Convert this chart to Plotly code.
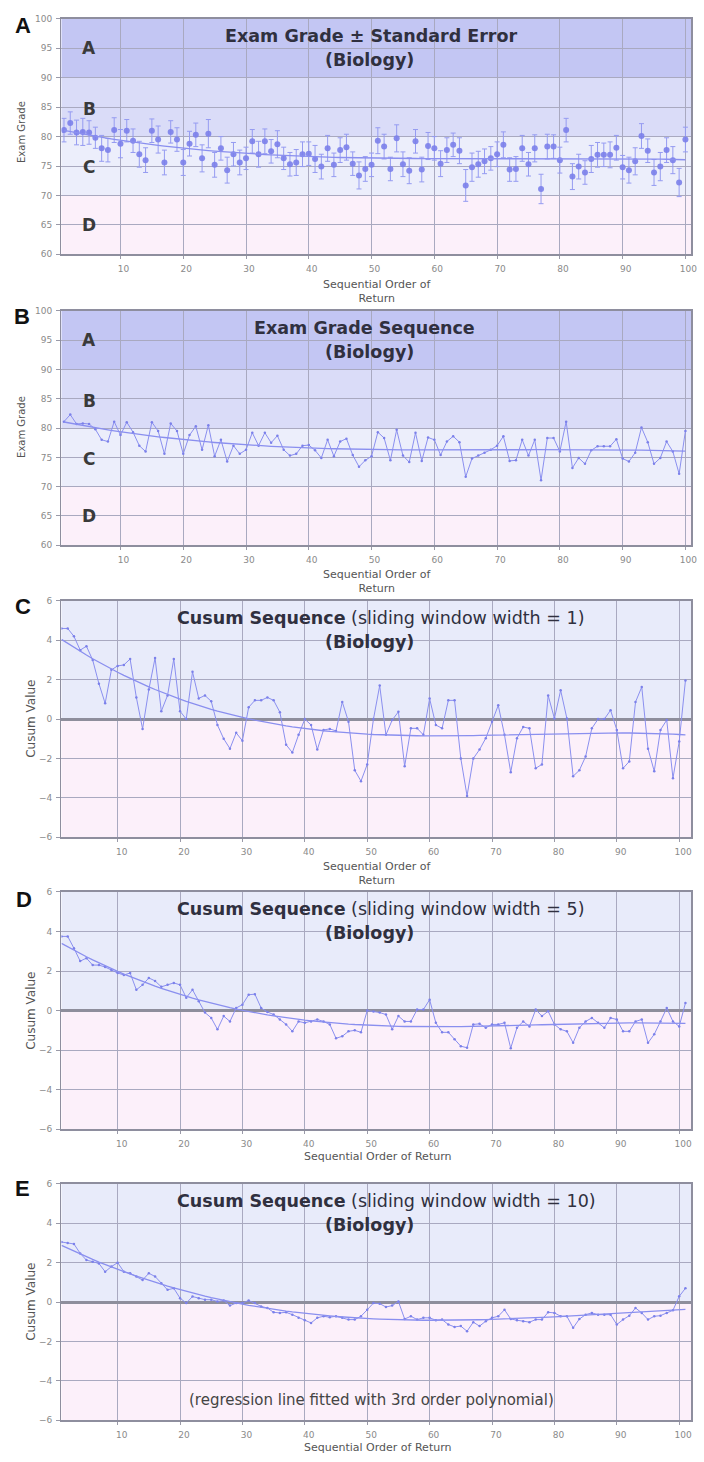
import numpy as np
import plotly.graph_objects as go

# ---------------- data ----------------
order = list(range(1, 101))
grades = [81.1, 82.3, 80.7, 80.8, 80.7, 79.8, 78.0, 77.7, 81.1, 78.8,
          81.0, 79.3, 77.0, 76.0, 81.0, 79.5, 75.6, 80.8, 79.5, 75.6,
          78.8, 80.3, 76.3, 80.5, 75.2, 78.0, 74.3, 77.0, 75.6, 76.3,
          79.2, 77.0, 79.2, 77.5, 78.7, 76.3, 75.3, 75.6, 77.0, 77.1,
          76.2, 74.9, 78.0, 75.2, 77.7, 78.2, 75.4, 73.4, 74.5, 75.2,
          79.3, 78.3, 74.5, 79.7, 75.3, 74.2, 79.2, 74.4, 78.4, 78.0,
          75.4, 77.7, 78.6, 77.6, 71.7, 74.8, 75.3, 75.8, 76.3, 77.0,
          78.6, 74.4, 74.5, 78.0, 75.3, 78.0, 71.1, 78.3, 78.3, 76.0,
          81.1, 73.2, 74.9, 73.9, 76.2, 76.9, 76.9, 76.9, 78.1, 74.8,
          74.3, 75.8, 80.1, 77.6, 73.9, 74.9, 77.7, 76.0, 72.2, 79.5]
grade_se = [2.0, 1.9, 2.1, 2.3, 2.0, 1.8, 2.2, 2.0, 2.1, 2.4,
            1.9, 2.0, 2.2, 2.1, 2.0, 2.3, 2.1, 1.9, 2.0, 2.2,
            2.1, 2.0, 2.3, 2.4, 2.1, 2.0, 2.2, 2.0, 2.1, 1.9,
            2.0, 2.2, 2.1, 2.0, 2.3, 1.9, 2.0, 2.2, 2.1, 2.0,
            2.3, 2.1, 2.2, 2.0, 2.1, 2.2, 2.0, 2.3, 2.1, 2.0,
            2.2, 2.1, 2.0, 2.3, 2.1, 2.2, 2.0, 2.1, 2.3, 2.0,
            2.2, 2.1, 2.0, 2.2, 2.7, 2.4, 2.2, 2.1, 2.0, 2.1,
            2.2, 2.0, 2.1, 2.2, 2.0, 2.3, 2.5, 2.1, 2.0, 2.2,
            2.0, 2.2, 2.1, 2.0, 2.3, 2.1, 2.0, 2.2, 2.1, 2.0,
            2.2, 2.3, 2.1, 2.0, 2.2, 2.4, 2.1, 2.3, 2.4, 2.1]

cusum_order = list(range(1, 102))
cusum_w1 = [4.6, 4.6, 4.2, 3.5, 3.7, 3.0, 1.8, 0.8, 2.5, 2.7,
            2.75, 3.05, 1.1, -0.5, 1.5, 3.1, 0.4, 1.2, 3.05, 0.4,
            0.0, 2.4, 1.05, 1.2, 0.9, -0.3, -1.0, -1.5, -0.7, -1.1,
            0.6, 0.95, 0.95, 1.1, 0.95, 0.35, -1.3, -1.7, -0.8, 0.0,
            -0.3, -1.55, -0.55, -0.5, -0.6, 0.87, -0.13, -2.6, -3.15, -2.3,
            0.0, 1.7, -0.8, -0.05, 0.37, -2.4, -0.47, -0.47, -0.8, 1.04,
            -0.3, -0.47, 0.95, 0.95, -2.0, -3.9, -2.0, -1.55, -0.97, -0.13,
            0.7, -0.8, -2.7, -0.97, -0.4, -0.47, -2.5, -2.3, 1.2, 0.03,
            1.46, 0.03, -2.9, -2.6, -1.9, -0.47, 0.0, 0.0, 0.45, -0.55,
            -2.5, -2.15, 0.87, 1.63, -1.5, -2.65, -0.55, -0.05, -3.0, -1.14,
            1.96]
cusum_w5 = [3.75, 3.75, 3.15, 2.5, 2.65, 2.3, 2.3, 2.2, 2.05, 1.9,
            1.8, 1.9, 1.05, 1.3, 1.65, 1.5, 1.2, 1.3, 1.4, 1.3,
            0.65, 1.05, 0.47, -0.1, -0.37, -0.95, -0.28, -0.55, 0.13, 0.3,
            0.8, 0.83, 0.13, -0.07, -0.2, -0.45, -0.7, -1.05, -0.55, -0.62,
            -0.55, -0.45, -0.55, -0.7, -1.4, -1.3, -1.05, -1.0, -1.1, 0.0,
            -0.05, -0.1, -0.2, -0.95, -0.28, -0.55, -0.55, 0.05, 0.05, 0.55,
            -0.62, -1.1, -1.1, -1.45, -1.8, -1.88, -0.7, -0.67, -0.87, -0.7,
            -0.7, -0.62, -1.9, -0.87, -0.55, -0.8, 0.05, -0.28, -0.03, -0.7,
            -0.95, -1.05, -1.63, -0.87, -0.55, -0.37, -0.62, -0.87, -0.37, -0.45,
            -1.05, -1.05, -0.55, -0.45, -1.63, -1.2, -0.55, 0.13, -0.55, -0.8,
            0.38]
cusum_w10 = [3.05, 3.0, 2.95, 2.47, 2.13, 2.05, 1.96, 1.54, 1.8, 2.0,
             1.54, 1.46, 1.3, 1.12, 1.46, 1.3, 0.96, 0.62, 0.7, 0.2,
             -0.05, 0.28, 0.2, 0.12, 0.12, 0.03, 0.08, -0.18, -0.05, -0.05,
             0.08, -0.05, -0.22, -0.3, -0.52, -0.55, -0.52, -0.64, -0.8, -0.92,
             -1.06, -0.8, -0.72, -0.77, -0.72, -0.8, -0.89, -0.89, -0.72, -0.39,
             -0.05, -0.08, -0.25, -0.18, 0.03, -0.86, -0.72, -0.89, -0.8, -0.8,
             -0.92, -0.89, -1.14, -1.26, -1.22, -1.48, -1.02, -1.22, -0.97, -0.8,
             -0.72, -0.39, -0.86, -0.92, -0.97, -1.02, -0.89, -0.89, -0.52, -0.55,
             -0.72, -0.72, -1.31, -0.86, -0.64, -0.55, -0.64, -0.64, -0.64, -1.14,
             -0.89, -0.69, -0.3, -0.55, -0.89, -0.72, -0.69, -0.55, -0.42, 0.29,
             0.7]

x_tick_vals = [10, 20, 30, 40, 50, 60, 70, 80, 90, 100]
grade_tick_vals = [60, 65, 70, 75, 80, 85, 90, 95, 100]
cusum_tick_vals = [-6, -4, -2, 0, 2, 4, 6]
grade_letters = ["A", "B", "C", "D"]
grade_letter_y = [95, 84.7, 74.8, 65]
grade_band_low = [90, 80, 70, 60]
grade_band_high = [100, 90, 80, 70]
window_widths = [1, 5, 10]
subject = "(Biology)"

# ---------------- styling / layout ----------------
W, H = 704, 1462
PL, PR = 62, 697
tops = [14, 308, 600, 893, 1187]
bots = [251, 544, 838, 1132, 1425]
band_colors = ["#c3c6f3", "#dadcf8", "#eceefb", "#fcf0fa"]
POS_BG, NEG_BG = "#e8ebfa", "#fcf0fa"
GRID = "#a9a9c0"
FRAME = "#8e8e9e"
DOT = "#7b80ea"
LINE = "#8a8fef"
TXT = "#30303f"
FONT = "DejaVu Sans"


def px(x):
    return x / W


def py(y):
    return 1 - y / H


fig = go.Figure()
names = ["x", "x2", "x3", "x4", "x5"]
ynames = ["y", "y2", "y3", "y4", "y5"]

# Panel A: grades with standard error
fig.add_trace(go.Scatter(x=order, y=grades, mode="markers",
                         marker=dict(size=6, color=DOT, opacity=0.9),
                         error_y=dict(type="data", array=grade_se, color="#959bf1",
                                      thickness=1, width=2.5),
                         xaxis="x", yaxis="y", showlegend=False))
fitA = np.polyval(np.polyfit(order, grades, 3), order)
fig.add_trace(go.Scatter(x=order, y=fitA, mode="lines", line=dict(color=LINE, width=1.3),
                         xaxis="x", yaxis="y", showlegend=False))

# Panel B: grade sequence
fig.add_trace(go.Scatter(x=order, y=grades, mode="lines+markers",
                         line=dict(color=LINE, width=1), marker=dict(size=2.5, color=DOT),
                         xaxis="x2", yaxis="y2", showlegend=False))
fig.add_trace(go.Scatter(x=order, y=fitA, mode="lines", line=dict(color=LINE, width=1.3),
                         xaxis="x2", yaxis="y2", showlegend=False))

# Panels C-E: cusum sequences
for k, series in enumerate([cusum_w1, cusum_w5, cusum_w10]):
    xa, ya = names[k + 2], ynames[k + 2]
    fig.add_trace(go.Scatter(x=cusum_order, y=series, mode="lines+markers",
                             line=dict(color=LINE, width=1), marker=dict(size=2.5, color=DOT),
                             xaxis=xa, yaxis=ya, showlegend=False))
    fit = np.polyval(np.polyfit(cusum_order, series, 3), cusum_order)
    fig.add_trace(go.Scatter(x=cusum_order, y=fit, mode="lines",
                             line=dict(color=LINE, width=1.3),
                             xaxis=xa, yaxis=ya, showlegend=False))

shapes = []
annotations = []
layout = dict(width=W, height=H, autosize=False, margin=dict(l=0, r=0, t=0, b=0),
              paper_bgcolor="white", plot_bgcolor="white", showlegend=False)

for i in range(5):
    xkey = "xaxis" if i == 0 else f"xaxis{i + 1}"
    ykey = "yaxis" if i == 0 else f"yaxis{i + 1}"
    is_grade = i < 2
    layout[xkey] = dict(
        domain=[px(PL), px(PR)], anchor=ynames[i],
        range=[0.6, 100.9] if is_grade else [1.0, 101.9],
        tickvals=x_tick_vals, ticks="outside", ticklen=3, tickcolor="#9a9aa8",
        tickfont=dict(family=FONT, size=9, color="#8a8a8a"),
        ticklabelshift=3 if is_grade else 4, ticklabelstandoff=2,
        showgrid=True, gridcolor=GRID, gridwidth=1, zeroline=False,
        showline=True, mirror=True, linecolor=FRAME, linewidth=1.5)
    layout[ykey] = dict(
        domain=[py(bots[i]), py(tops[i])], anchor=names[i],
        range=[60, 100] if is_grade else [-6, 6],
        tickvals=grade_tick_vals if is_grade else cusum_tick_vals,
        ticks="outside", ticklen=4, tickcolor="#9a9aa8",
        tickfont=dict(family=FONT, size=9, color="#8a8a8a"), ticklabelstandoff=2,
        showgrid=True, gridcolor=GRID, gridwidth=1,
        zeroline=not is_grade, zerolinecolor="#8e8e9c", zerolinewidth=3,
        showline=True, mirror=True, linecolor=FRAME, linewidth=1.5)

    if is_grade:
        for lo, hi, col in zip(grade_band_low, grade_band_high, band_colors):
            shapes.append(dict(type="rect", xref=f"{names[i]} domain", x0=0, x1=1,
                               yref=ynames[i], y0=lo, y1=hi, fillcolor=col,
                               line=dict(width=0), layer="below"))
        for letter, ly in zip(grade_letters, grade_letter_y):
            annotations.append(dict(x=5, y=ly, xref=names[i], yref=ynames[i], text=letter,
                                    showarrow=False,
                                    font=dict(family=FONT, size=17, color="#3a3a3a", weight="bold")))
    else:
        shapes.append(dict(type="rect", xref=f"{names[i]} domain", x0=0, x1=1,
                           yref=ynames[i], y0=0, y1=6, fillcolor=POS_BG,
                           line=dict(width=0), layer="below"))
        shapes.append(dict(type="rect", xref=f"{names[i]} domain", x0=0, x1=1,
                           yref=ynames[i], y0=-6, y1=0, fillcolor=NEG_BG,
                           line=dict(width=0), layer="below"))

# titles
title1 = ["<b>Exam Grade ± Standard Error</b>", "<b>Exam Grade Sequence</b>"] + \
         [f"<b>Cusum Sequence</b> (sliding window width = {w})" for w in window_widths]
title1_x = [374, 368, 384, 384, 390]
for i in range(5):
    annotations.append(dict(x=px(title1_x[i]), y=py(tops[i] + 17), xref="paper", yref="paper",
                            text=title1[i], showarrow=False, xanchor="center", yanchor="middle",
                            font=dict(family=FONT, size=17.5, color=TXT)))
    annotations.append(dict(x=px(373), y=py(tops[i] + 41), xref="paper", yref="paper",
                            text=f"<b>{subject}</b>", showarrow=False, xanchor="center",
                            yanchor="middle", font=dict(family=FONT, size=17.5, color=TXT)))

# panel letters
letter_pos = [(23, 21), (22, 314), (23, 606), (24, 901), (23, 1192)]
for lab, (lx, ly) in zip(["A", "B", "C", "D", "E"], letter_pos):
    annotations.append(dict(x=px(lx), y=py(ly), xref="paper", yref="paper", text=f"<b>{lab}</b>",
                            showarrow=False, xanchor="center", yanchor="middle",
                            font=dict(family="Liberation Sans", size=22, color="#111111")))

# axis titles
xt_y = [288, 580, 874, 1159, 1452]
xt_text = ["Sequential Order of<br>Return"] * 3 + ["Sequential Order of Return"] * 2
for i in range(5):
    annotations.append(dict(x=px(381), y=py(xt_y[i]), xref="paper", yref="paper",
                            text=xt_text[i], showarrow=False, xanchor="center", yanchor="middle",
                            font=dict(family=FONT, size=11, color="#555555")))
yt = [("Exam Grade", 21, 128, 10), ("Exam Grade", 21, 425, 10),
      ("Cusum Value", 31, 719, 12), ("Cusum Value", 31, 1013, 12),
      ("Cusum Value", 31, 1306, 12)]
for txt, tx, tyy, fs in yt:
    annotations.append(dict(x=px(tx), y=py(tyy), xref="paper", yref="paper", text=txt,
                            textangle=-90, showarrow=False, xanchor="center", yanchor="middle",
                            font=dict(family=FONT, size=fs, color="#555555")))

annotations.append(dict(x=px(375), y=py(1405), xref="paper", yref="paper",
                        text="(regression line fitted with 3rd order polynomial)",
                        showarrow=False, xanchor="center", yanchor="middle",
                        font=dict(family=FONT, size=15, color="#444444")))

layout["shapes"] = shapes
layout["annotations"] = annotations
fig.update_layout(**layout)
fig.write_html("out.html",
               config={"displayModeBar": False, "staticPlot": True},
               post_script="document.body.style.margin='0px';"
                           "document.body.style.overflow='hidden';"
                           "document.documentElement.style.overflow='hidden';")
